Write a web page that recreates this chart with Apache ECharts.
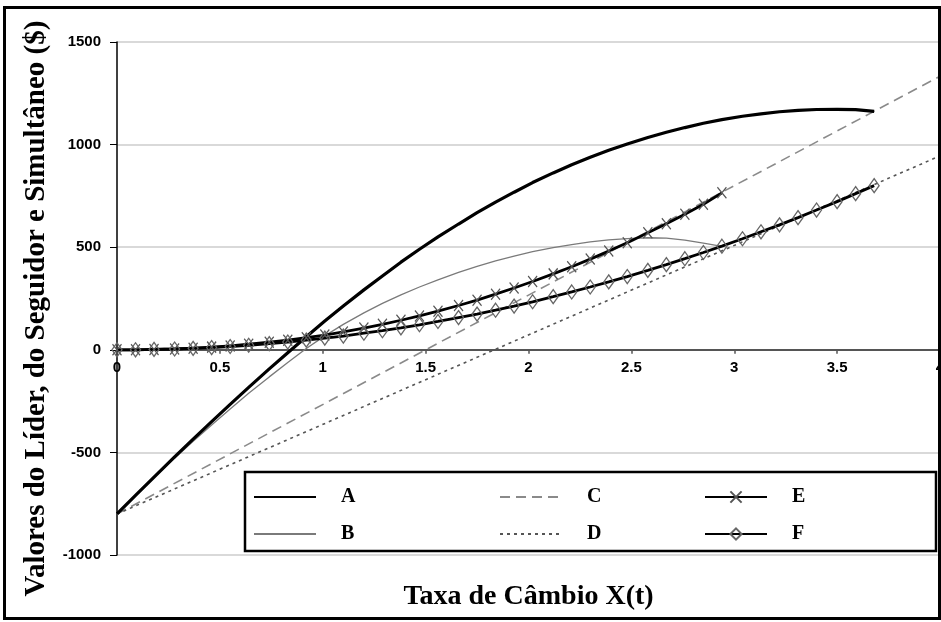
<!DOCTYPE html>
<html>
<head>
<meta charset="utf-8">
<script src="https://cdn.jsdelivr.net/npm/echarts@6/dist/echarts.min.js"></script>
<style>html,body{margin:0;padding:0;background:#fff}#c{width:941px;height:622px}</style>
</head>
<body>
<div id="c"></div>
<script>
// x positions of the computed points (shared by A, B, E, F)
const xs = [0.00,0.09,0.18,0.28,0.37,0.46,0.55,0.64,0.74,0.83,0.92,1.01,1.10,1.20,1.29,1.38,1.47,1.56,1.66,1.75,1.84,1.93,2.02,2.12,2.21,2.30,2.39,2.48,2.58,2.67,2.76,2.85,2.94,3.04,3.13,3.22,3.31,3.40,3.50,3.59,3.68];
const seriesA = [-800,-710,-620,-522,-435,-350,-266,-183,-93,-14,64,140,213,292,360,427,490,550,613,668,720,768,815,862,902,938,972,1003,1035,1060,1083,1104,1122,1138,1150,1160,1167,1171,1172,1170,1162];
const seriesB = [-800,-710,-622,-528,-446,-366,-288,-212,-132,-62,6,68,124,180,226,268,306,341,377,406,433,456,478,498,513,526,536,542,546,544,534,520,504];
const seriesE = [0,0,2,4,8,13,19,27,37,47,59,72,87,106,124,144,165,188,216,242,271,301,333,370,405,442,481,522,570,614,661,709,765];
const seriesF = [0,0,2,4,7,11,16,22,30,38,47,57,67,81,93,107,122,138,157,174,193,213,234,259,282,306,331,357,387,415,444,474,505,541,575,609,644,681,722,761,800];
const xCD = [0, 4];
const seriesC = [-800, 1333];
const seriesD = [-800, 945];
const xTicks = {min:0, max:4, interval:0.5};
const yTicks = {min:-1000, max:1500, interval:500};

const pairs = (xv, yv) => yv.map((v, i) => [xv[i], v]);

const chart = echarts.init(document.getElementById('c'), null, {renderer:'canvas'});
const serifFont = '"Liberation Serif","Times New Roman",serif';
const sansFont = '"Liberation Sans",Arial,sans-serif';
const legendText = {fontFamily: serifFont, fontSize: 20, fontWeight: 'bold', color: '#000', padding: [0,0,0,20], lineHeight: 24};
const noSym = {opacity: 0};
const legendBase = {orient: 'vertical', top: 480, itemWidth: 62, itemHeight: 14, itemGap: 13, textStyle: legendText, selectedMode: false, z: 20};

// grid geometry
const gridTop = 42, gridBottom = 67, H = 622;
const plotH = H - gridTop - gridBottom;
const zeroOffset = plotH * (0 - yTicks.min) / (yTicks.max - yTicks.min);

chart.setOption({
  animation: false,
  backgroundColor: '#ffffff',
  grid: {left: 117, right: 1, top: gridTop, bottom: gridBottom, containLabel: false, outerBoundsMode: 'none'},
  xAxis: {
    type: 'value', min: xTicks.min, max: xTicks.max, interval: xTicks.interval,
    position: 'bottom', offset: -zeroOffset,
    name: 'Taxa de Câmbio X(t)', nameLocation: 'middle', nameGap: 233,
    nameTextStyle: {fontFamily: serifFont, fontSize: 28, fontWeight: 'bold', color: '#000'},
    axisLine: {onZero: false, lineStyle: {color: '#555', width: 2}},
    axisTick: {show: true, inside: false, length: 4, lineStyle: {color: '#555', width: 1.5}},
    axisLabel: {margin: 11, fontFamily: sansFont, fontSize: 15, fontWeight: 'bold', color: '#000', formatter: v => String(v)},
    splitLine: {show: false}
  },
  yAxis: {
    type: 'value', min: yTicks.min, max: yTicks.max, interval: yTicks.interval,
    name: 'Valores do Líder, do Seguidor e Simultâneo ($)', nameLocation: 'middle', nameGap: 66, nameRotate: 90,
    nameTextStyle: {fontFamily: serifFont, fontSize: 29, fontWeight: 'bold', color: '#000', padding: [0,20,0,0]},
    axisLine: {show: true, onZero: false, lineStyle: {color: '#000', width: 1.5}},
    axisTick: {show: true, length: 7, lineStyle: {color: '#000', width: 1}},
    axisLabel: {margin: 16, fontFamily: sansFont, fontSize: 15, fontWeight: 'bold', color: '#000', formatter: v => String(v)},
    splitLine: {show: true, lineStyle: {color: '#d9d9d9', width: 2}}
  },
  legend: [
    Object.assign({}, legendBase, {left: 248, data: [{name: 'A', itemStyle: noSym}, {name: 'B', itemStyle: noSym}]}),
    Object.assign({}, legendBase, {left: 494, data: [{name: 'C', itemStyle: noSym}, {name: 'D', itemStyle: noSym}]}),
    Object.assign({}, legendBase, {left: 699, data: ['E', 'F']})
  ],
  graphic: [
    {type: 'rect', z: 10, shape: {x: 245, y: 472, width: 691, height: 79}, style: {fill: '#fff', stroke: '#000', lineWidth: 2.5}},
    {type: 'rect', z: 30, silent: true, shape: {x: 4.5, y: 7.5, width: 935, height: 611}, style: {fill: 'none', stroke: '#000', lineWidth: 3}}
  ],
  series: [
    {name: 'C', type: 'line', data: pairs(xCD, seriesC), symbol: 'none', lineStyle: {color: '#8a8a8a', width: 1.6, type: [10,6]}, itemStyle: {color: '#8a8a8a'}, z: 2},
    {name: 'D', type: 'line', data: pairs(xCD, seriesD), symbol: 'none', lineStyle: {color: '#555', width: 1.6, type: [3,4]}, itemStyle: {color: '#555'}, z: 2},
    {name: 'B', type: 'line', data: pairs(xs, seriesB), symbol: 'none', lineStyle: {color: '#7a7a7a', width: 1.3}, itemStyle: {color: '#7a7a7a'}, z: 3},
    {name: 'A', type: 'line', data: pairs(xs, seriesA), symbol: 'none', lineStyle: {color: '#000', width: 3.2}, itemStyle: {color: '#000'}, z: 4},
    {name: 'E', type: 'line', data: pairs(xs, seriesE), symbol: 'path://M0,0L10,12M0,12L10,0', symbolSize: [9,11], showAllSymbol: true,
      lineStyle: {color: '#000', width: 2.8}, itemStyle: {color: '#555', borderColor: '#555', borderWidth: 1.3}, z: 5},
    {name: 'F', type: 'line', data: pairs(xs, seriesF), symbol: 'diamond', symbolSize: [10,14], showAllSymbol: true,
      lineStyle: {color: '#000', width: 2.8}, itemStyle: {color: 'rgba(255,255,255,0)', borderColor: '#666', borderWidth: 1.3}, z: 5}
  ]
});
</script>
</body>
</html>
